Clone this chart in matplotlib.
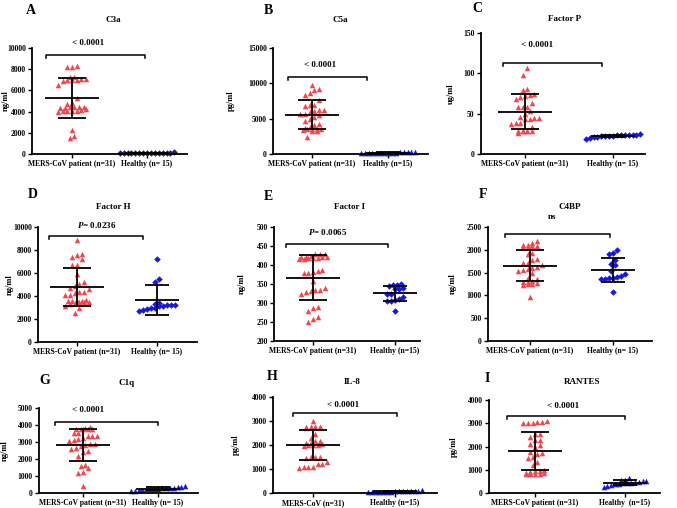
import numpy as np
import matplotlib.pyplot as plt

plt.rcParams['font.family'] = 'Liberation Serif'
plt.rcParams['font.weight'] = 'bold'
plt.rcParams['mathtext.fontset'] = 'custom'
plt.rcParams['mathtext.it'] = 'Liberation Serif:italic:bold'
plt.rcParams['mathtext.rm'] = 'Liberation Serif:bold'

W, H = 677, 508
RED = '#f0474f'
BLUE = '#1717e0'
NAVY = '#1f1f66'

# valores (MERS-CoV n=31, saudaveis n=15)
c3a_mers = [8200, 8200, 8300, 7300, 7300, 7000, 7000, 6950, 7050, 6900, 7100, 6500, 5300,
            4800, 4700, 4400, 4400, 4450, 4350, 4400, 4300, 4100, 4150, 4100, 4050, 4100,
            4200, 4000, 2300, 1700, 1500]
c3a_healthy = [60, 70, 80, 85, 90, 95, 100, 100, 105, 110, 115, 120, 130, 140, 150]

c5a_mers = [9700, 9200, 9100, 8700, 8400, 7600, 7000, 6900, 6800, 6200, 6200, 6100, 6000,
            5700, 5600, 5500, 5200, 5000, 4600, 4300, 4100, 3800, 3700, 3600, 3600, 3500,
            3500, 3400, 3300, 3200, 2400]
c5a_healthy = [120, 140, 150, 160, 170, 180, 190, 200, 200, 210, 220, 230, 240, 250, 260]

fp_mers = [106, 98, 80, 79, 75, 73, 72, 71, 68, 63, 58, 58, 58, 53, 50, 46, 45, 45, 44, 43,
           39, 38, 37, 33, 29, 29, 29, 29, 29, 29, 26]
fp_healthy = [18, 20, 21, 21, 22, 22, 22, 22, 23, 23, 23, 23, 24, 24, 25]

fh_mers = [8840, 7690, 7600, 7400, 7200, 6730, 6680, 5950, 5230, 5030, 4880, 4710, 4600,
           4360, 4360, 4280, 4080, 4080, 3650, 3600, 3600, 3600, 3550, 3500, 3500, 3450,
           3400, 3300, 3150, 2980, 2490]
fh_healthy = [7200, 5460, 5230, 3350, 3300, 3250, 3200, 3200, 3150, 3100, 3000, 2950, 2900,
              2750, 2700]

fi_mers = [430, 430, 428, 425, 422, 420, 420, 420, 418, 418, 418, 415, 415, 388, 385, 382,
           380, 378, 358, 340, 335, 333, 332, 330, 325, 290, 287, 280, 262, 258, 250]
fi_healthy = [350, 348, 347, 346, 340, 338, 336, 325, 324, 316, 310, 308, 306, 305, 280]

c4bp_mers = [2190, 2160, 2110, 2100, 2090, 2080, 2070, 2060, 1920, 1900, 1790, 1770, 1720,
             1700, 1660, 1620, 1600, 1580, 1560, 1540, 1500, 1380, 1350, 1320, 1300, 1290,
             1270, 1250, 1240, 1220, 960]
c4bp_healthy = [1990, 1920, 1900, 1770, 1680, 1670, 1530, 1480, 1420, 1400, 1390, 1380,
                1370, 1350, 1080]

c1q_mers = [3890, 3800, 3780, 3780, 3770, 3760, 3750, 3550, 3520, 3380, 3350, 3330, 3250,
            3150, 3100, 3050, 2900, 2860, 2800, 2750, 2650, 2600, 2500, 2400, 2200, 1640,
            1580, 1460, 1250, 1180, 430]
c1q_healthy = [400, 380, 350, 320, 300, 280, 270, 260, 250, 240, 230, 200, 180, 120, 100]

il8_mers = [3000, 2770, 2760, 2750, 2750, 2740, 2740, 2730, 2720, 2450, 2300, 2150, 2100,
            2040, 2000, 1990, 1980, 2150, 2100, 1950, 1520, 1500, 1480, 1460, 1300, 1210,
            1200, 1100, 1080, 1070, 1050]
il8_healthy = [30, 40, 45, 50, 55, 60, 60, 65, 70, 70, 75, 80, 90, 100, 110]

rantes_mers = [3100, 3050, 3000, 3000, 3000, 3050, 2550, 2530, 2400, 2300, 2300, 2100, 2050,
               2000, 1780, 1720, 1680, 1560, 1500, 1340, 1200, 980, 960, 940, 920, 850, 840,
               830, 830, 820, 820]
rantes_healthy = [650, 580, 550, 520, 500, 480, 470, 450, 430, 420, 400, 380, 350, 300, 250]

# configuracao de cada painel (caixa em pixels, posicao das categorias etc.)
paineis = [
    dict(letra='A', titulo='C3a', un='ng/ml', dados=(c3a_mers, c3a_healthy),
         box=(32, 187, 48, 154), cats=(72, 147), ylim=(0, 10000), passo=2000,
         hmark='D', hcor=NAVY, xl=('MERS-CoV patient (n=31)', 'Healthy (n= 15)'),
         colch=(-0.35, 0.97, 9340), p='< 0.0001', pxy=(0.21, 10470),
         letra_xy=(31, 10), tit_xy=(113, 20), ylab_x=10),
    dict(letra='B', titulo='C5a', un='pg/ml', dados=(c5a_mers, c5a_healthy),
         box=(273, 428, 48, 154), cats=(312, 388), ylim=(0, 15000), passo=5000,
         hmark='^', hcor=BLUE, xl=('MERS-CoV patient (n=31)', 'Healthy (n=15)'),
         colch=(-0.32, 0.72, 10900), p='< 0.0001', pxy=(0.1, 12600),
         letra_xy=(268, 10), tit_xy=(340, 20), ylab_x=235),
    dict(letra='C', titulo='Factor P', un='ug/ml', dados=(fp_mers, fp_healthy),
         box=(481, 645, 33, 154), cats=(525, 613), ylim=(0, 150), passo=50,
         hmark='D', hcor=BLUE, xl=('MERS-CoV patient (n=31)', 'Healthy (n= 15)'),
         colch=(-0.25, 0.875, 113), p='< 0.0001', pxy=(0.14, 135),
         letra_xy=(477, 9), tit_xy=(565, 19), ylab_x=455),
    dict(letra='D', titulo='Factor H', un='ng/ml', dados=(fh_mers, fh_healthy),
         box=(38, 197, 227, 342), cats=(77, 157), ylim=(0, 10000), passo=2000,
         hmark='D', hcor=BLUE, xl=('MERS-CoV patient (n=31)', 'Healthy (n= 15)'),
         colch=(-0.35, 0.825, 9190), p='$P$= 0.0236', pxy=(0.25, 10150),
         letra_xy=(33, 195), tit_xy=(113, 207), ylab_x=14),
    dict(letra='E', titulo='Factor I', un='ng/ml', dados=(fi_mers, fi_healthy),
         box=(274, 420, 227, 341), cats=(313, 395), ylim=(200, 500), passo=50,
         hmark='D', hcor=BLUE, xl=('MERS-CoV patient (n=31)', 'Healthy (n=15)'),
         colch=(-0.33, 0.91, 454), p='$P$= 0.0065', pxy=(0.18, 486),
         letra_xy=(268, 196), tit_xy=(350, 207), ylab_x=246),
    dict(letra='F', titulo='C4BP', un='ng/ml', dados=(c4bp_mers, c4bp_healthy),
         box=(488, 652, 227, 341), cats=(530, 613), ylim=(0, 2500), passo=500,
         hmark='D', hcor=BLUE, xl=('MERS-CoV patient (n=31)', 'Healthy (n= 15)'),
         colch=(-0.3, 0.96, 2340), p='ns', pxy=(0.27, 2710),
         letra_xy=(483, 195), tit_xy=(570, 207), ylab_x=457),
    dict(letra='G', titulo='C1q', un='ng/ml', dados=(c1q_mers, c1q_healthy),
         box=(39, 198, 408, 493), cats=(83, 158), ylim=(0, 5000), passo=1000,
         hmark='^', hcor=BLUE, xl=('MERS-CoV patient (n=31)', 'Healthy (n= 15)'),
         colch=(-0.37, 1.0, 4180), p='< 0.0001', pxy=(0.07, 4880),
         letra_xy=(45, 380), tit_xy=(127, 383), ylab_x=9),
    dict(letra='H', titulo='IL-8', un='pg/ml', dados=(il8_mers, il8_healthy),
         box=(273, 437, 397, 493), cats=(313, 395), ylim=(0, 4000), passo=1000,
         hmark='^', hcor=BLUE, xl=('MERS-CoV (n=31)', 'Healthy (n=15)'),
         colch=(-0.24, 1.02, 3320), p='< 0.0001', pxy=(0.37, 3650),
         letra_xy=(272, 377), tit_xy=(352, 382), ylab_x=240),
    dict(letra='I', titulo='RANTES', un='pg/ml', dados=(rantes_mers, rantes_healthy),
         box=(489, 660, 400, 493), cats=(535, 625), ylim=(0, 4000), passo=1000,
         hmark='^', hcor=BLUE, xl=('MERS-CoV patient (n=31)', 'Healthy  (n=15)'),
         colch=(-0.31, 1.0, 3310), p='< 0.0001', pxy=(0.31, 3730),
         letra_xy=(487, 378), tit_xy=(582, 382), ylab_x=458),
]


def espalhar(vals, binw, dx, maxlinha):
    # agrupa valores proximos numa linha horizontal (estilo Prism)
    v = np.asarray(vals, float)
    ordem = np.argsort(v)
    xs = np.zeros(len(v))
    grupos = []
    atual = [ordem[0]]
    for i in ordem[1:]:
        if v[i] - v[atual[0]] < binw:
            atual.append(i)
        else:
            grupos.append(atual)
            atual = [i]
    grupos.append(atual)
    for g in grupos:
        npart = int(np.ceil(len(g) / maxlinha))
        for parte in np.array_split(np.array(g), npart):
            n = len(parte)
            xs[parte] = (np.arange(n) - (n - 1) / 2) * dx
    return xs


fig = plt.figure(figsize=(W / 100, H / 100), dpi=100)

for p in paineis:
    l, r, t, b = p['box']
    m, h = p['cats']
    unit = h - m
    ax = fig.add_axes([l / W, 1 - b / H, (r - l) / W, (b - t) / H])
    ax.set_xlim((l - m) / unit, (r - m) / unit)
    y0, y1 = p['ylim']
    ax.set_ylim(y0, y1)
    dy = (y1 - y0) / (b - t)
    dxp = 1 / unit

    for i, vals in enumerate(p['dados']):
        mk = '^' if i == 0 else p['hmark']
        cor = RED if i == 0 else p['hcor']
        passo_x = (4.7 if i == 0 else 3.9) * dxp
        xs = i + espalhar(vals, 6.5 * dy, passo_x, 7 if i == 0 else 15)
        ax.scatter(xs, vals, marker=mk, s=16 if mk == '^' else 11, c=cor,
                   linewidths=0, zorder=2, clip_on=False)
        media = np.mean(vals)
        dp = np.std(vals, ddof=1)
        hw = (27 if i == 0 else 22) * dxp
        cw = (14 if i == 0 else 12) * dxp
        kw = dict(color='black', lw=1.3, zorder=3, solid_capstyle='butt')
        ax.plot([i - hw, i + hw], [media, media], **kw)
        ax.plot([i, i], [max(media - dp, y0), media + dp], **kw)
        ax.plot([i - cw, i + cw], [media + dp] * 2, **kw)
        if media - dp > y0:
            ax.plot([i - cw, i + cw], [media - dp] * 2, **kw)

    x0, x1, yc = p['colch']
    ax.plot([x0, x0, x1, x1], [yc - 3 * dy, yc, yc, yc - 3 * dy], color='black',
            lw=1.1, clip_on=False)
    ax.text(p['pxy'][0], p['pxy'][1], p['p'], ha='center', va='center', fontsize=6.5,
            fontweight='bold')

    for s in ['top', 'right']:
        ax.spines[s].set_visible(False)
    for s in ['left', 'bottom']:
        ax.spines[s].set_linewidth(1.3)
    ax.set_xticks([0, 1])
    ax.set_xticklabels(p['xl'])
    ax.set_yticks(np.arange(y0, y1 + 1, p['passo']))
    ax.tick_params(direction='out', length=3, width=1, labelsize=5.5, pad=1.5)
    ax.set_ylabel(p['un'], fontsize=6, fontweight='bold')
    ax.yaxis.set_label_coords((p['ylab_x'] - l) / (r - l), 0.5)

    fig.text(p['letra_xy'][0] / W, 1 - p['letra_xy'][1] / H, p['letra'], fontsize=10,
             fontweight='bold', ha='center', va='center')
    fig.text(p['tit_xy'][0] / W, 1 - p['tit_xy'][1] / H, p['titulo'], fontsize=6.5,
             fontweight='bold', ha='center', va='center')

fig.savefig('out.png', dpi=100)
